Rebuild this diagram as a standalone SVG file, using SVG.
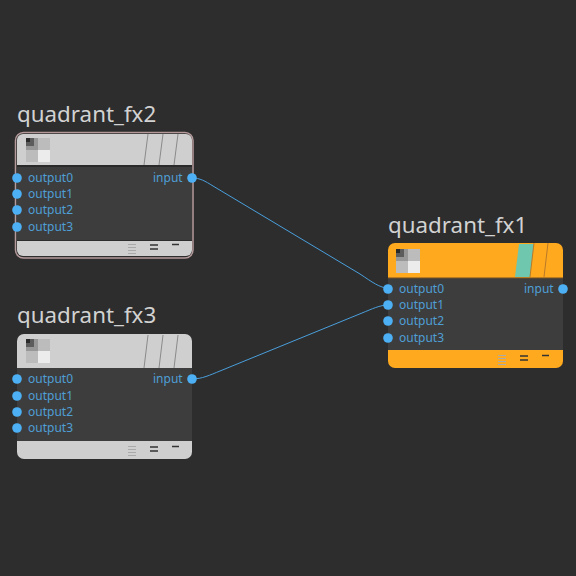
<svg xmlns="http://www.w3.org/2000/svg" width="576" height="576" viewBox="0 0 576 576">
<style>
.title{font:22.350px "Noto Sans","DejaVu Sans",sans-serif;fill:#d2d2d2}
.port{font:12px "Noto Sans","DejaVu Sans",sans-serif;fill:#4f9fd6}
.dot{fill:#4db0f5}
.wire{fill:none;stroke:#4a9fdc;stroke-width:1}
.body{fill:#3d3d3d}
.slash{fill:none;stroke:#8a8a8a;stroke-width:1}
.grey{fill:#cfcfcf}
.orange{fill:#ffa91e}
.sep{fill:#2a2a2a}
</style>
<defs>
<filter id="soft" x="-10%" y="-10%" width="120%" height="120%"><feGaussianBlur stdDeviation="0.700"/></filter>
<g id="thumb" filter="url(#soft)">
<rect x="0" y="0" width="24" height="24" fill="#bcbcbc"/>
<rect x="0" y="0" width="12" height="12" fill="#979797"/>
<rect x="0" y="0" width="8" height="8" fill="#5c5c5c"/>
<rect x="0" y="0" width="4" height="4" fill="#2a2a2a"/>
<rect x="12" y="12" width="12" height="12" fill="#ececec"/>
</g>
<g id="menu">
<path d="M128 -15.500h8M128 -12.500h8M128 -9.500h8M128 -6.500h8" stroke="#aaa" stroke-width="1" fill="none"/>
<path d="M150 -15h8M150 -11h8" stroke="#333" stroke-width="1.500" fill="none"/>
<path d="M172 -15.500h7" stroke="#333" stroke-width="1.500" fill="none"/>
</g>
</defs>
<rect width="576" height="576" fill="#2d2d2d"/>
<g id="connectors">
<path class="wire" d="M192 178C200 178 205 181 213 186L360 274C372 282 380 288 388 288"/>
<path class="wire" d="M192 379C202 379 210 375 220 371L362 313C372 309 380 305 388 305"/>
</g>
<g id="quadrant_fx2">
<text class="title" x="17" y="122">quadrant_fx2</text>
<rect x="15.500" y="132.500" width="177.500" height="125.500" rx="8" fill="none" stroke="#b59a9c" stroke-width="1.500"/>
<path class="grey" d="M17 140a6 6 0 0 1 6-6h163a6 6 0 0 1 6 6v25H17z"/>
<rect class="sep" x="17" y="165" width="175" height="2"/>
<rect class="body" x="17" y="167" width="175" height="73"/>
<path class="grey" d="M17 241h175v9a6 6 0 0 1-6 6H23a6 6 0 0 1-6-6z"/>
<use href="#thumb" x="26" y="138"/>
<path class="slash" d="M148 134l-4 31M163 134l-4 31M178 134l-4 31"/>
<use href="#menu" y="260"/>
<g class="port"><text x="28" y="182">output0</text><text x="28" y="198">output1</text><text x="28" y="214">output2</text><text x="28" y="231">output3</text><text x="153" y="182">input</text></g>
<g class="dot"><circle cx="17" cy="178" r="4.800"/><circle cx="17" cy="194" r="4.800"/><circle cx="17" cy="210" r="4.800"/><circle cx="17" cy="227" r="4.800"/><circle cx="192" cy="178" r="4.800"/></g>
</g>
<g id="quadrant_fx3">
<text class="title" x="17" y="323">quadrant_fx3</text>
<path class="grey" d="M17 341a7 7 0 0 1 7-7h161a7 7 0 0 1 7 7v27H17z"/>
<rect class="body" x="17" y="368" width="175" height="73"/>
<path class="grey" d="M17 441h175v11a7 7 0 0 1-7 7H24a7 7 0 0 1-7-7z"/>
<use href="#thumb" x="26" y="339"/>
<path class="slash" d="M148 335l-4 33M163 335l-4 33M178 335l-4 33"/>
<use href="#menu" y="462"/>
<g class="port"><text x="28" y="383">output0</text><text x="28" y="400">output1</text><text x="28" y="416">output2</text><text x="28" y="432">output3</text><text x="153" y="383">input</text></g>
<g class="dot"><circle cx="17" cy="379" r="4.800"/><circle cx="17" cy="396" r="4.800"/><circle cx="17" cy="412" r="4.800"/><circle cx="17" cy="428" r="4.800"/><circle cx="192" cy="379" r="4.800"/></g>
</g>
<g id="quadrant_fx1">
<text class="title" x="388" y="233">quadrant_fx1</text>
<path class="orange" d="M388 250a7 7 0 0 1 7-7h161a7 7 0 0 1 7 7v28H388z"/>
<polygon points="519,244 534,244 530,277 515,277" fill="#6fc7ae"/>
<path d="M534 243l-4 34M548 243l-4 34" fill="none" stroke="#b87a2a" stroke-width="1"/>
<rect x="388" y="277" width="175" height="1.500" fill="#b87a20"/>
<rect class="body" x="388" y="278.500" width="175" height="71.500"/>
<path class="orange" d="M388 350h175v11a7 7 0 0 1-7 7H395a7 7 0 0 1-7-7z"/>
<use href="#thumb" x="396" y="249"/>
<use href="#menu" x="370" y="371"/>
<g class="port"><text x="399" y="293">output0</text><text x="399" y="309">output1</text><text x="399" y="325">output2</text><text x="399" y="342">output3</text><text x="524" y="293">input</text></g>
<g class="dot"><circle cx="388" cy="289" r="4.800"/><circle cx="388" cy="305" r="4.800"/><circle cx="388" cy="321" r="4.800"/><circle cx="388" cy="338" r="4.800"/><circle cx="563" cy="289" r="4.800"/></g>
</g>
</svg>
